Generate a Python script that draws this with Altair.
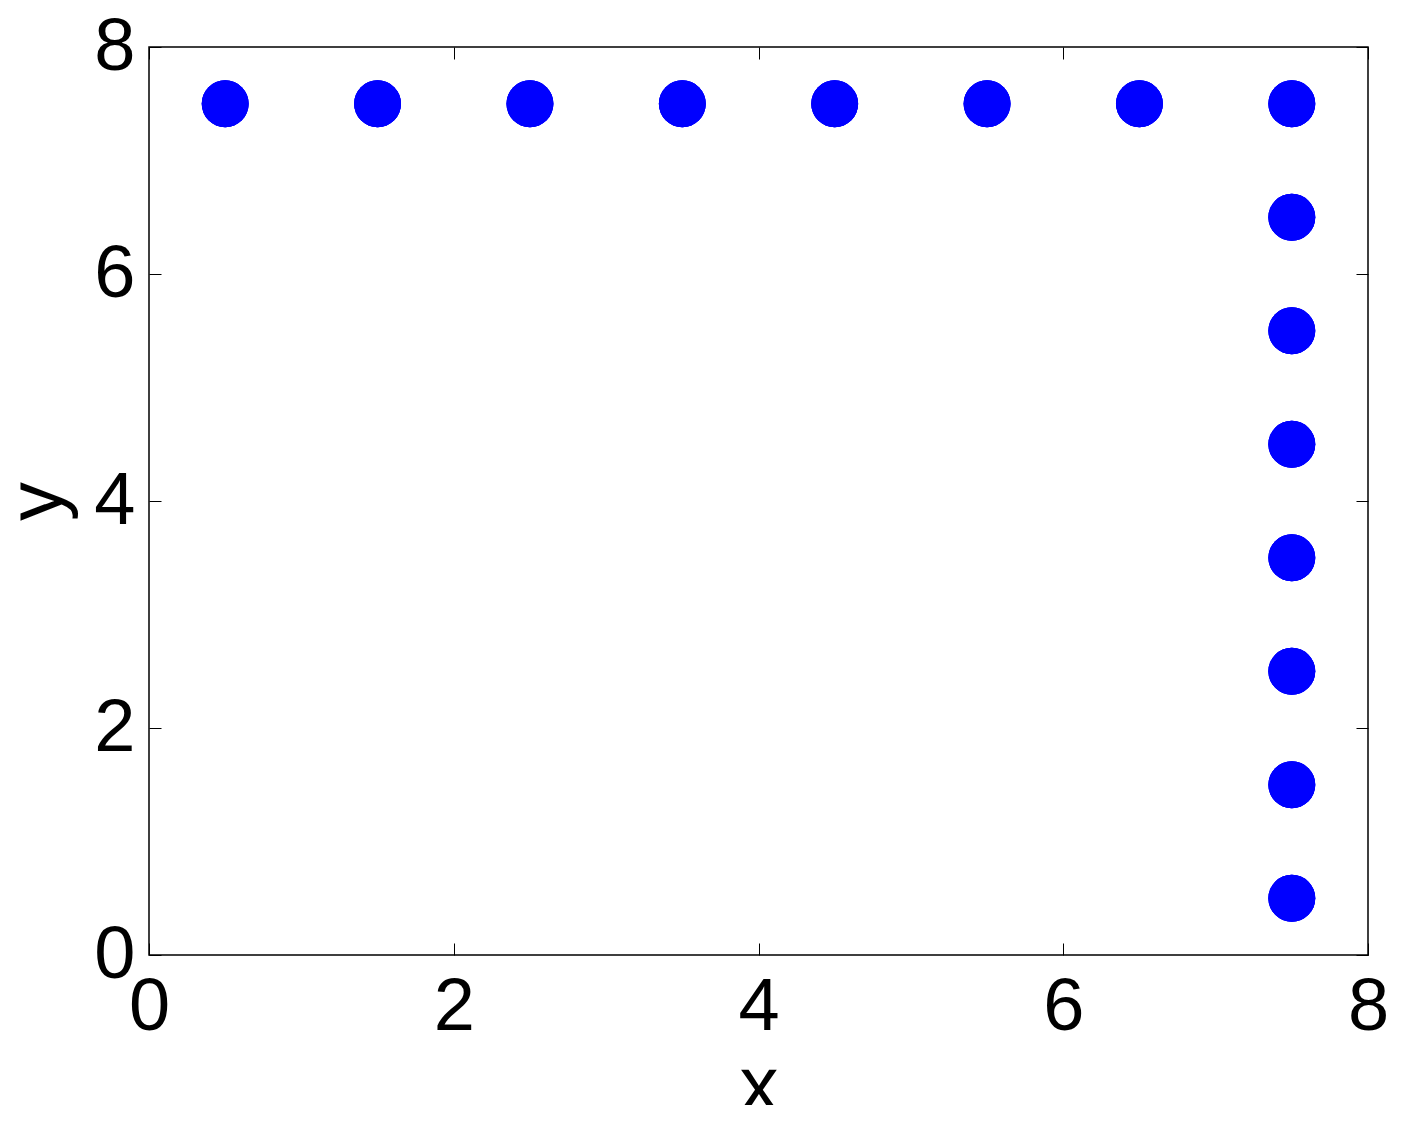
import altair as alt
import pandas as pd

xs = [0.5, 1.5, 2.5, 3.5, 4.5, 5.5, 6.5, 7.5, 7.5, 7.5, 7.5, 7.5, 7.5, 7.5, 7.5]
ys = [7.5, 7.5, 7.5, 7.5, 7.5, 7.5, 7.5, 7.5, 6.5, 5.5, 4.5, 3.5, 2.5, 1.5, 0.5]
ticks = [0, 2, 4, 6, 8]

df = pd.DataFrame({"x": xs, "y": ys})
W, H = 1219, 908
FONT = "Liberation Sans"
FS = 74

xscale = alt.Scale(domain=[0, 8], nice=False, zero=False)
yscale = alt.Scale(domain=[0, 8], nice=False, zero=False)

common = dict(domain=False, grid=False, values=ticks)

# Layer 1: labels and titles, no ticks
base = alt.Chart(df).mark_circle(size=2200, color="#0000ff", opacity=1).encode(
    x=alt.X("x:Q", scale=xscale, axis=alt.Axis(
        title="x", ticks=False, labelFontSize=FS, labelFont=FONT, labelColor="black",
        labelPadding=16, titleFontSize=FS + 4, titleFont=FONT, titleFontWeight="normal",
        titleColor="black", titlePadding=4, labelFlush=False, labelOverlap=False, **common)),
    y=alt.Y("y:Q", scale=yscale, axis=alt.Axis(
        title="y", ticks=False, labelFontSize=FS, labelFont=FONT, labelColor="black",
        labelPadding=14, titleFontSize=FS + 4, titleFont=FONT, titleFontWeight="normal",
        titleColor="black", titlePadding=16, labelFlush=False, labelOverlap=False, **common)),
)

tickstyle = dict(labels=False, title=None, ticks=True, tickSize=12, tickColor="black", tickWidth=1, **common)

# Layer 2: inward ticks at bottom and left edges
l2 = alt.Chart(df).mark_circle(size=2200, color="#0000ff", opacity=1).encode(
    x=alt.X("x:Q", scale=xscale, axis=alt.Axis(orient="top", offset=-H, **tickstyle)),
    y=alt.Y("y:Q", scale=yscale, axis=alt.Axis(orient="right", offset=-W, **tickstyle)),
)

# Layer 3: inward ticks at top and right edges
l3 = alt.Chart(df).mark_circle(size=2200, color="#0000ff", opacity=1).encode(
    x=alt.X("x:Q", scale=xscale, axis=alt.Axis(orient="bottom", offset=-H, **tickstyle)),
    y=alt.Y("y:Q", scale=yscale, axis=alt.Axis(orient="left", offset=-W, **tickstyle)),
)

chart = alt.layer(base, l2, l3).resolve_axis(x="independent", y="independent").properties(
    width=W, height=H,
    background="white",
    autosize=alt.AutoSizeParams(type="none"),
    padding={"left": 141, "top": 39, "right": 30, "bottom": 150},
).configure_view(stroke="black", strokeWidth=1.5)

chart.save("out.html", embed_options={"renderer": "svg", "actions": False})
